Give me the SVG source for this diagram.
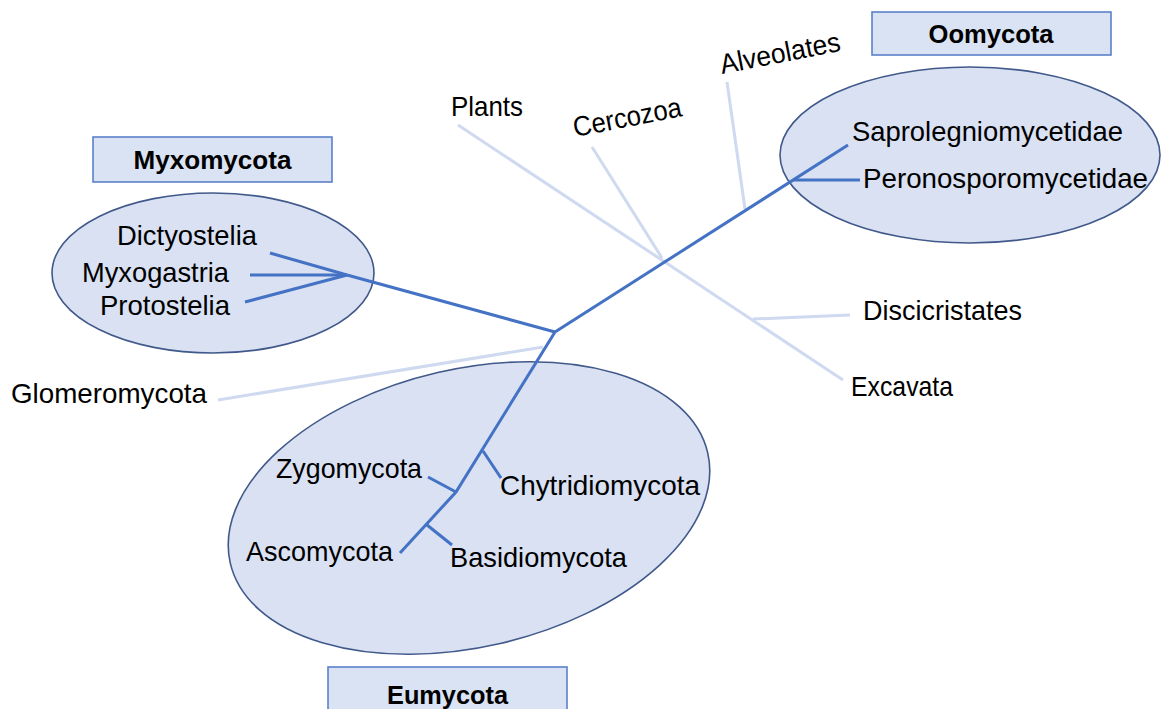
<svg xmlns="http://www.w3.org/2000/svg" width="1163" height="709" viewBox="0 0 1163 709">
<style>
  .bg{fill:#ffffff}
  .ell{fill:#d9e1f3;stroke:#41598a;stroke-width:1.6}
  .box{fill:#dae3f3;stroke:#5b80c8;stroke-width:1.6}
  .main{stroke:#4472c4;stroke-width:3;fill:none;stroke-linecap:butt;stroke-linejoin:miter}
  .pale{stroke:#cfd9ef;stroke-width:3;fill:none}
  .t{font-family:"Liberation Sans",Arial,sans-serif;font-size:28px;fill:#000000}
  .b{font-family:"Liberation Sans",Arial,sans-serif;font-size:26px;font-weight:bold;fill:#000000}
</style>
<rect class="bg" x="0" y="0" width="1163" height="709"/>

<g id="myxomycota-cluster">
  <ellipse class="ell" cx="213" cy="273" rx="161" ry="80"/>
</g>
<g id="oomycota-cluster">
  <ellipse class="ell" cx="970" cy="155" rx="190" ry="88"/>
</g>
<g id="eumycota-cluster">
  <ellipse class="ell" cx="469" cy="508" rx="245" ry="139" transform="rotate(-13 469 508)"/>
</g>

<g id="connectors">
  <line class="pale" x1="458" y1="125" x2="843" y2="380"/>
  <line class="pale" x1="592" y1="147" x2="662" y2="258"/>
  <line class="pale" x1="727" y1="82" x2="745" y2="209"/>
  <line class="pale" x1="753" y1="319" x2="850" y2="315"/>
  <line class="pale" x1="218" y1="400" x2="543" y2="347"/>
  <line class="main" x1="555" y1="332" x2="347" y2="275"/>
  <line class="main" x1="347" y1="275" x2="270" y2="253"/>
  <line class="main" x1="347" y1="275" x2="250" y2="275"/>
  <line class="main" x1="347" y1="275" x2="245" y2="302"/>
  <line class="main" x1="555" y1="332" x2="848" y2="145"/>
  <line class="main" x1="793" y1="180" x2="860" y2="180"/>
  <polyline class="main" points="555,332 456,492 400,553"/>
  <line class="main" x1="483" y1="451" x2="501" y2="478"/>
  <line class="main" x1="428" y1="477" x2="456" y2="492"/>
  <line class="main" x1="427" y1="525" x2="452" y2="545"/>
</g>

<g id="box-myxomycota">
  <rect class="box" x="93" y="137" width="239" height="45"/>
  <text class="b" x="212.5" y="169" text-anchor="middle" textLength="158" lengthAdjust="spacingAndGlyphs">Myxomycota</text>
</g>
<g id="box-oomycota">
  <rect class="box" x="872" y="12" width="239" height="43"/>
  <text class="b" x="991" y="43" text-anchor="middle" textLength="125" lengthAdjust="spacingAndGlyphs">Oomycota</text>
</g>
<g id="box-eumycota">
  <rect class="box" x="328" y="667" width="239" height="50"/>
  <text class="b" x="447.5" y="704" text-anchor="middle" textLength="121" lengthAdjust="spacingAndGlyphs">Eumycota</text>
</g>

<g id="node-dictyostelia"><text class="t" x="117" y="245" textLength="140" lengthAdjust="spacingAndGlyphs">Dictyostelia</text></g>
<g id="node-myxogastria"><text class="t" x="82" y="282" textLength="147" lengthAdjust="spacingAndGlyphs">Myxogastria</text></g>
<g id="node-protostelia"><text class="t" x="100" y="315" textLength="130" lengthAdjust="spacingAndGlyphs">Protostelia</text></g>

<g id="node-saprolegniomycetidae"><text class="t" x="852" y="141" textLength="271" lengthAdjust="spacingAndGlyphs">Saprolegniomycetidae</text></g>
<g id="node-peronosporomycetidae"><text class="t" x="863" y="188" textLength="285" lengthAdjust="spacingAndGlyphs">Peronosporomycetidae</text></g>

<g id="node-plants"><text class="t" x="451" y="116" textLength="72" lengthAdjust="spacingAndGlyphs">Plants</text></g>
<g id="node-cercozoa"><text class="t" x="575" y="137" transform="rotate(-11 575 137)" textLength="110" lengthAdjust="spacingAndGlyphs">Cercozoa</text></g>
<g id="node-alveolates"><text class="t" x="722" y="74" transform="rotate(-11 722 74)" textLength="122" lengthAdjust="spacingAndGlyphs">Alveolates</text></g>
<g id="node-discicristates"><text class="t" x="863" y="320" textLength="159" lengthAdjust="spacingAndGlyphs">Discicristates</text></g>
<g id="node-excavata"><text class="t" x="851" y="396" textLength="102" lengthAdjust="spacingAndGlyphs">Excavata</text></g>
<g id="node-glomeromycota"><text class="t" x="11" y="403" textLength="196" lengthAdjust="spacingAndGlyphs">Glomeromycota</text></g>

<g id="node-zygomycota"><text class="t" x="276" y="478" textLength="146" lengthAdjust="spacingAndGlyphs">Zygomycota</text></g>
<g id="node-chytridiomycota"><text class="t" x="500" y="495" textLength="200" lengthAdjust="spacingAndGlyphs">Chytridiomycota</text></g>
<g id="node-ascomycota"><text class="t" x="246" y="561" textLength="147" lengthAdjust="spacingAndGlyphs">Ascomycota</text></g>
<g id="node-basidiomycota"><text class="t" x="450" y="567" textLength="177" lengthAdjust="spacingAndGlyphs">Basidiomycota</text></g>
</svg>
